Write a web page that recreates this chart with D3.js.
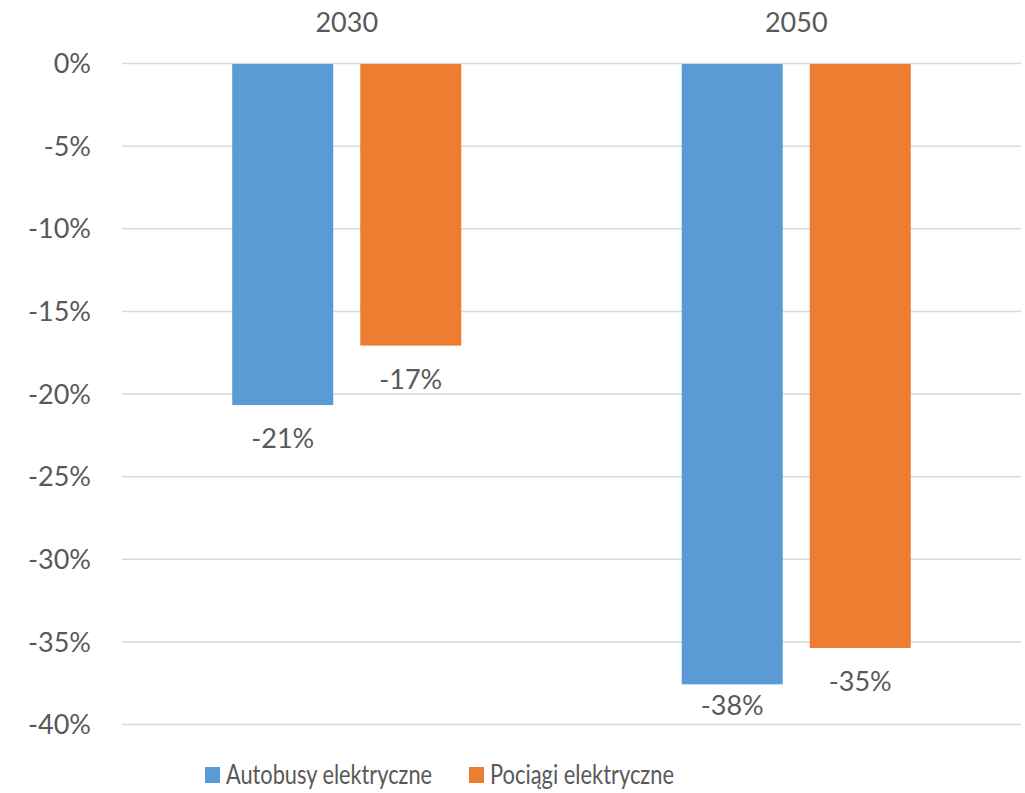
<!DOCTYPE html>
<html>
<head>
<meta charset="utf-8">
<script src="https://cdn.jsdelivr.net/npm/d3@7"></script>
<style>
  html, body { margin: 0; padding: 0; background: #fff; }
  svg text { font-family: Lato, "Open Sans", sans-serif; fill: #595959; }
</style>
</head>
<body>
<svg id="chart" width="1025" height="793"></svg>
<script>
// Change in emissions by year and electric transport type
const years = ["2030", "2050"];
const seriesNames = ["Autobusy elektryczne", "Pociągi elektryczne"];
const autobusy = [-0.207, -0.376];
const pociagi = [-0.171, -0.354];
const yTicks = [0, -0.05, -0.10, -0.15, -0.20, -0.25, -0.30, -0.35, -0.40];
const colors = ["#5B9BD5", "#ED7D31"];

const seriesValues = [autobusy, pociagi];

const svg = d3.select("#chart");
const plot = { left: 122, right: 1021, top: 63, bottom: 724 };

const x0 = d3.scaleBand().domain(years).range([plot.left, plot.right]).padding(0);
const x1 = d3.scaleBand().domain(seriesNames).range([0, x0.bandwidth()])
  .paddingInner(0.211).paddingOuter(0.861);
const y = d3.scaleLinear().domain([0, -0.40]).range([plot.top, plot.bottom]);

const pct = d3.format(".0%");
const fmt = v => pct(v).replace("−", "-");

// Horizontal gridlines with tick labels
const yAxis = d3.axisLeft(y).tickValues(yTicks).tickFormat(fmt)
  .tickSize(-(plot.right - plot.left)).tickPadding(31);
const gy = svg.append("g").attr("transform", `translate(${plot.left},0)`).call(yAxis);
gy.select(".domain").remove();
gy.selectAll(".tick line").attr("stroke", "#d9d9d9").attr("stroke-width", 1.5);
gy.selectAll(".tick text").attr("font-size", 27).style("fill", "#595959")
  .attr("dy", "0.36em");

// Year labels above the plot
svg.append("g").selectAll("text").data(years).join("text")
  .attr("x", d => x0(d) + x0.bandwidth() / 2)
  .attr("y", 32)
  .attr("text-anchor", "middle")
  .attr("font-size", 27)
  .text(d => d);

// Bars
const groups = svg.append("g").selectAll("g").data(years).join("g")
  .attr("transform", d => `translate(${x0(d)},0)`);

const cells = (d, i) => seriesNames.map((s, j) => ({ s, j, v: seriesValues[j][i] }));

groups.selectAll("rect")
  .data(cells)
  .join("rect")
  .attr("x", d => x1(d.s))
  .attr("width", x1.bandwidth())
  .attr("y", y(0) + 1)
  .attr("height", d => y(d.v) - y(0) - 1)
  .attr("fill", d => colors[d.j]);

// Value labels below each bar, kept inside the plot area
groups.selectAll("text.val")
  .data(cells)
  .join("text")
  .attr("class", "val")
  .attr("x", d => x1(d.s) + x1.bandwidth() / 2)
  .attr("y", d => Math.min(y(d.v) + 43, plot.bottom - 9))
  .attr("text-anchor", "middle")
  .attr("font-size", 27)
  .text(d => fmt(d.v));

// Legend (narrow type, fitted to fixed widths)
const legendItems = [
  { name: seriesNames[0], color: colors[0], x: 205, w: 206 },
  { name: seriesNames[1], color: colors[1], x: 469, w: 184 }
];
const lg = svg.append("g").selectAll("g").data(legendItems).join("g")
  .attr("transform", d => `translate(${d.x},767)`);
lg.append("rect").attr("width", 15).attr("height", 16).attr("fill", d => d.color);
lg.append("text").attr("x", 21).attr("y", 17).attr("font-size", 27)
  .attr("textLength", d => d.w).attr("lengthAdjust", "spacingAndGlyphs")
  .text(d => d.name);
</script>
</body>
</html>
